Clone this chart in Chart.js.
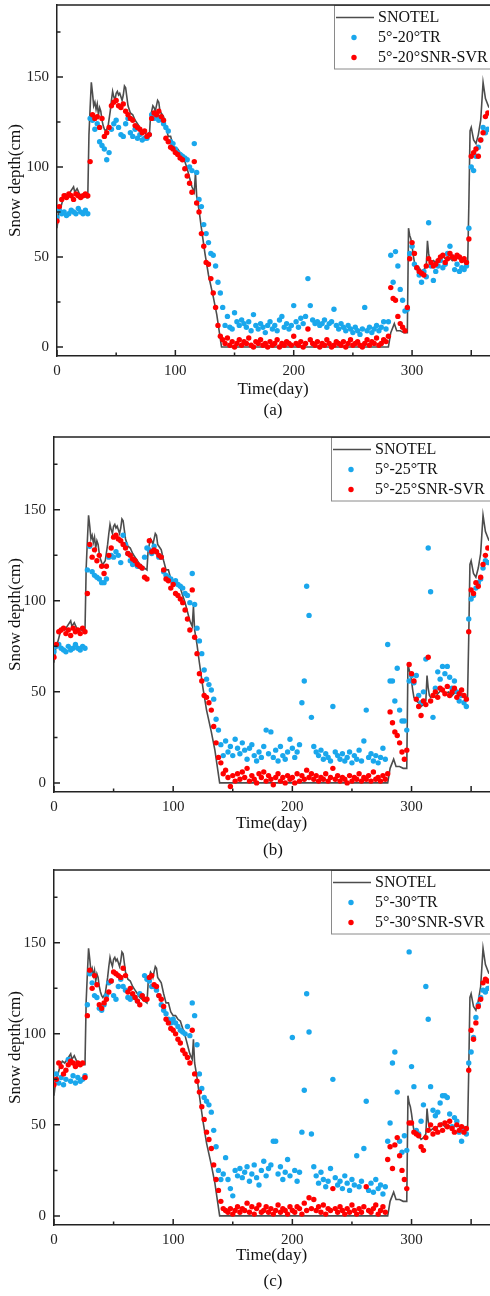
<!DOCTYPE html>
<html>
<head>
<meta charset="utf-8">
<script src="https://cdn.jsdelivr.net/npm/chart.js@4.4.0/dist/chart.umd.min.js"></script>
<style>
  html, body { margin: 0; padding: 0; background: #fff; overflow: hidden; }
  #wrap { position: relative; width: 490px; height: 1296px; overflow: hidden; background: #fff; }
  #wrap canvas { position: absolute; left: 0; }
  .cap { position: absolute; width: 40px; text-align: center; line-height: 20px;
         font-family: 'Liberation Serif', 'Times New Roman', serif; font-size: 17px; color: #111; }
</style>
</head>
<body>
<div id="wrap">
  <canvas id="chartA" width="493" height="416" style="top:0px;width:493px;height:416px"></canvas>
  <canvas id="chartB" width="493" height="420" style="top:432px;width:493px;height:420px"></canvas>
  <canvas id="chartC" width="493" height="420" style="top:865px;width:493px;height:420px"></canvas>
  <div class="cap" style="left:253px;top:400px">(a)</div>
  <div class="cap" style="left:253px;top:840px">(b)</div>
  <div class="cap" style="left:253px;top:1271px">(c)</div>
</div>
<script>
// SNOTEL snow depth (cm)
const snotelDays = [
  0, 1, 2, 3, 5, 7, 9, 11, 13, 14,
  15, 17, 19, 21, 23, 25, 26, 27, 28, 29,
  30, 31, 32, 33, 34, 35, 36, 37, 38, 39,
  40, 41, 43, 45, 46, 47, 48, 49, 50, 51,
  52, 53, 54, 55, 56, 57, 58, 59, 60, 62,
  64, 66, 68, 70, 72, 74, 76, 78, 79, 80,
  81, 82, 83, 84, 85, 86, 87, 88, 89, 90,
  92, 94, 96, 98, 100, 102, 104, 106, 108, 110,
  112, 114, 116, 117, 118, 120, 122, 125, 128, 132,
  135, 139, 280, 282, 285, 287, 290, 293, 296, 297,
  298, 299, 300, 301, 302, 304, 306, 308, 310, 312,
  313, 314, 315, 316, 318, 320, 322, 325, 328, 331,
  334, 337, 340, 343, 346, 347, 348, 349, 350, 352,
  354, 356, 358, 360, 362, 365
];
const snotelDepth = [
  66, 72, 76, 77, 82, 85, 84, 86, 88, 89,
  86, 88, 85, 84, 84, 83, 83, 118, 133, 147,
  141, 134, 136, 132, 135, 129, 133, 131, 126, 123,
  121, 120, 122, 131, 137, 142, 139, 137, 141, 142,
  140, 141, 139, 137, 140, 145, 144, 139, 134, 130,
  129, 126, 124, 122, 120, 119, 118, 117, 128, 131,
  134, 133, 131, 134, 137, 136, 131, 130, 129, 128,
  122, 117, 117, 112, 110, 110, 108, 107, 103, 99,
  94, 89, 86, 97, 84, 76, 66, 52, 40, 28,
  18, 0, 0, 8, 13, 9, 9, 8, 8, 66,
  62, 60, 56, 51, 47, 45, 44, 42, 43, 45,
  59, 52, 48, 47, 48, 47, 49, 51, 49, 50,
  48, 50, 49, 48, 47, 47, 80, 120, 122, 115,
  113, 118, 126, 147, 138, 133
];

// retrieval days: every second day of the year
const sampleDays = Array.from({ length: 183 }, (_, i) => i * 2);

// (a) 5°-20°
const trA = [
  72, 76, 74, 75, 73, 74, 76, 75, 74, 77,
  75, 74, 76, 74, 127, 126, 121, 124, 114, 112,
  110, 104, 108, 121, 124, 126, 122, 118, 117, 124,
  127, 119, 117, 121, 116, 118, 115, 116, 116, 118,
  129, 127, 128, 126, 127, 124, 122, 120, 114, 113,
  110, 108, 107, 106, 105, 104, 100, 98, 113, 97,
  82, 78, 68, 63, 58, 52, 51, 45, 36, 30,
  22, 12, 17, 11, 10, 19, 14, 12, 15, 13,
  11, 14, 9, 18, 12, 10, 13, 11, 8, 12,
  14, 10, 12, 9, 15, 17, 11, 13, 10, 12,
  23, 14, 11, 16, 13, 17, 38, 23, 15, 13,
  14, 12, 13, 15, 11, 13, 14, 21, 12, 10,
  13, 11, 9, 12, 10, 8, 11, 9, 7, 10,
  22, 9, 11, 8, 10, 12, 9, 11, 14, 10,
  14, 51, 36, 53, 45, 32, 26, 20, 21, 52,
  56, 46, 44, 40, 36, 42, 39, 69, 45, 37,
  42, 45, 48, 44, 46, 52, 56, 50, 43, 46,
  42, 44, 43, 45, 66, 100, 98, 106, 111, 115,
  122, 119, 121
];
const svrA = [
  70, 78, 82, 84, 83, 85, 84, 82, 85, 84,
  83, 84, 85, 84, 103, 129, 127, 128, 122, 127,
  117, 119, 122, 134, 136, 137, 134, 133, 135, 131,
  129, 127, 126, 123, 122, 121, 119, 120, 117, 118,
  127, 130, 129, 131, 128, 126, 116, 114, 111, 110,
  108, 107, 105, 104, 99, 95, 91, 86, 103, 80,
  75, 63, 56, 47, 46, 38, 30, 22, 12, 6,
  4, 2, 5, 1, 3, 0, 2, 4, 1, 3,
  2, 5, 1, 0, 3, 2, 4, 1, 2, 0,
  3, 1, 2, 4, 0, 2, 1, 3, 2, 1,
  6, 2, 1, 3, 0, 2, 10, 4, 2, 1,
  3, 0, 2, 1, 4, 2, 0, 1, 3, 2,
  1, 3, 0, 2, 4, 1, 2, 3, 1, 0,
  2, 4, 1, 3, 2, 5, 1, 2, 4, 3,
  6, 33, 27, 26, 17, 13, 11, 9, 22, 49,
  58, 52, 44, 42, 41, 40, 45, 49, 47, 45,
  46, 48, 50, 51, 47, 49, 52, 50, 49, 51,
  50, 48, 49, 47, 60, 106, 108, 110, 106, 115,
  119, 128, 130
];

// (b) 5°-25°
const trB = [
  72, 75, 76, 74, 73, 72, 75, 73, 74, 76,
  74, 73, 75, 74, 117, 130, 116, 114, 113, 112,
  110, 110, 112, 124, 125, 124, 127, 125, 121, 136,
  131, 126, 122, 120, 121, 119, 119, 118, 124, 129,
  128, 126, 130, 127, 124, 124, 116, 114, 113, 112,
  110, 111, 109, 108, 107, 104, 103, 99, 115, 98,
  85, 78, 71, 62, 57, 54, 51, 46, 35, 29,
  21, 15, 23, 17, 20, 15, 24, 19, 16, 22,
  18, 13, 19, 21, 15, 12, 17, 14, 20, 29,
  16, 28, 14, 18, 12, 20, 15, 13, 17, 24,
  19, 14, 17, 21, 44, 56, 108, 92, 36, 20,
  17, 15, 18, 13, 16, 14, 12, 42, 17, 15,
  13, 16, 12, 14, 17, 11, 15, 13, 18, 12,
  23, 40, 14, 16, 12, 15, 11, 14, 19, 13,
  76, 56, 56, 45, 63, 40, 34, 34, 29, 56,
  59, 55, 59, 48, 44, 50, 68, 129, 105, 36,
  52, 61, 57, 64, 60, 64, 58, 52, 56, 50,
  45, 48, 44, 42, 90, 101, 103, 107, 110, 112,
  118, 122, 121
];
const svrB = [
  69, 76, 83, 84, 85, 82, 84, 81, 85, 83,
  84, 82, 85, 83, 104, 131, 124, 128, 122, 125,
  119, 115, 119, 125, 129, 135, 136, 134, 133, 131,
  129, 126, 125, 123, 122, 120, 119, 118, 113, 112,
  133, 127, 128, 127, 125, 124, 117, 112, 111, 107,
  109, 104, 103, 101, 99, 95, 90, 84, 106, 80,
  71, 60, 56, 48, 47, 44, 40, 31, 22, 14,
  11, 5, 7, 3, -2, 4, 1, 5, 2, 6,
  3, 8, 1, 4, 2, 0, 5, 3, 6, 1,
  4, 2, -1, 3, 5, 1, 3, 0, 4, 2,
  3, 0, 5, 1, 4, 2, 7, 3, 5, 2,
  4, 1, 3, 2, 5, 1, 3, 8, 2, 4,
  1, 3, 2, 0, 4, 1, 3, 2, 5, 1,
  3, 2, 4, 1, 6, 2, 3, 1, 4, 2,
  5, 39, 33, 28, 26, 22, 17, 13, 18, 65,
  60, 56, 46, 42, 37, 45, 43, 69, 45, 48,
  50, 47, 52, 51, 49, 53, 48, 50, 52, 47,
  49, 51, 48, 46, 83, 106, 104, 110, 108, 113,
  120, 125, 129
];

// (c) 5°-30°
const trC = [
  74, 78, 73, 76, 72, 75, 86, 74, 77, 73,
  76, 74, 75, 77, 116, 133, 128, 121, 120, 114,
  113, 116, 121, 128, 129, 121, 119, 126, 130, 126,
  124, 120, 119, 121, 120, 118, 122, 121, 132, 130,
  129, 126, 126, 124, 121, 116, 113, 111, 108, 106,
  108, 106, 104, 102, 101, 100, 104, 99, 117, 110,
  94, 78, 70, 65, 63, 61, 57, 47, 38, 25,
  20, 23, 32, 20, 15, 11, 25, 22, 26, 21,
  24, 27, 19, 23, 28, 21, 17, 25, 30, 22,
  26, 28, 41, 41, 23, 27, 20, 24, 31, 22,
  98, 25, 19, 24, 46, 69, 122, 101, 45, 27,
  22, 18, 24, 20, 16, 19, 26, 75, 21, 17,
  19, 15, 22, 18, 14, 20, 17, 33, 16, 19,
  37, 63, 14, 18, 13, 20, 15, 17, 12, 16,
  41, 51, 84, 90, 68, 41, 35, 44, 36, 145,
  82, 71, 47, 45, 52, 61, 126, 108, 71, 58,
  55, 57, 62, 66, 66, 65, 56, 49, 54, 52,
  46, 41, 48, 45, 84, 90, 98, 109, 116, 120,
  124, 123, 125
];
const svrC = [
  72, 75, 84, 82, 78, 80, 83, 85, 84, 82,
  84, 83, 84, 76, 110, 135, 125, 132, 127, 116,
  114, 117, 119, 123, 129, 134, 133, 132, 131, 136,
  132, 123, 125, 122, 120, 118, 116, 121, 119, 119,
  131, 132, 127, 126, 121, 119, 115, 108, 106, 103,
  102, 100, 97, 95, 91, 89, 87, 84, 102, 78,
  74, 68, 60, 53, 46, 42, 37, 28, 20, 14,
  8, 4, 3, 2, 4, 1, 3, 5, 2, 4,
  3, 7, 2, 5, 1, 4, 6, 2, 3, 5,
  2, 4, 1, 3, 6, 2, 4, 3, 1, 5,
  3, 2, 5, 4, 1, 7, 3, 10, 4, 9,
  3, 5, 2, 6, 1, 4, 3, 15, 4, 2,
  5, 3, 1, 4, 2, 6, 3, 1, 4, 2,
  5, 16, 3, 2, 4, 6, 1, 3, 5, 2,
  31, 38, 26, 39, 43, 33, 25, 20, 15, 51,
  51, 46, 45, 44, 38, 36, 43, 47, 50, 45,
  48, 46, 50, 47, 51, 49, 52, 48, 46, 50,
  47, 49, 46, 48, 80, 102, 97, 106, 115, 119,
  128, 130, 129
];

const angleLabels = ['5°-20°', '5°-25°', '5°-30°'];
const yTicks = [0, 50, 100, 150];
const yMinor = [25, 75, 125, 175];
const xTicks = [0, 100, 200, 300, 350];
const xLabelled = [0, 100, 200, 300];
const xMinor = [50, 150, 250];

const serif = "'Liberation Serif', 'Times New Roman', serif";

function toPoints(xs, ys) {
  return ys.map((v, i) => ({ x: xs[i], y: v }));
}

// box legend inside the plot, inward tick marks and the top frame line
const frameTicks = {
  id: 'frameTicks',
  afterDraw(chart) {
    const { ctx, chartArea: a, scales: { x, y } } = chart;
    const ds = chart.data.datasets;
    ctx.save();

    // legend
    const L = a.left + 277, T = a.top;
    ctx.fillStyle = '#fff';
    ctx.fillRect(L, T, chart.width - L, 64);
    ctx.strokeStyle = '#8a8a8a';
    ctx.lineWidth = 1;
    ctx.strokeRect(L + 0.5, T + 0.5, chart.width, 63.5);

    ctx.strokeStyle = ds[0].borderColor;
    ctx.lineWidth = ds[0].borderWidth;
    ctx.beginPath();
    ctx.moveTo(L + 2, T + 12.5);
    ctx.lineTo(L + 40, T + 12.5);
    ctx.stroke();
    [1, 2].forEach((k, j) => {
      ctx.fillStyle = ds[k].backgroundColor;
      ctx.beginPath();
      ctx.arc(L + 20, T + 32.5 + j * 20, ds[k].pointRadius, 0, Math.PI * 2);
      ctx.fill();
    });
    ctx.fillStyle = '#111';
    ctx.font = '16px ' + serif;
    ctx.textBaseline = 'middle';
    ds.forEach((d, k) => ctx.fillText(d.label, L + 44, T + 13 + k * 20));

    // frame top + ticks pointing inward
    ctx.strokeStyle = '#222';
    ctx.lineWidth = 1.5;
    ctx.beginPath();
    ctx.moveTo(a.left - 0.75, a.top);
    ctx.lineTo(chart.width, a.top);
    yTicks.forEach(v => { const p = y.getPixelForValue(v); ctx.moveTo(a.left, p); ctx.lineTo(a.left + 6, p); });
    yMinor.forEach(v => { const p = y.getPixelForValue(v); ctx.moveTo(a.left, p); ctx.lineTo(a.left + 3.5, p); });
    xTicks.forEach(v => { const p = x.getPixelForValue(v); ctx.moveTo(p, a.bottom); ctx.lineTo(p, a.bottom - 6); });
    xMinor.forEach(v => { const p = x.getPixelForValue(v); ctx.moveTo(p, a.bottom); ctx.lineTo(p, a.bottom - 3.5); });
    ctx.stroke();
    ctx.restore();
  }
};

function makeChart(canvasId, tr, svr, angle, plotLeft, titlePad) {
  return new Chart(document.getElementById(canvasId), {
    type: 'scatter',
    data: {
      datasets: [
        {
          label: 'SNOTEL',
          data: toPoints(snotelDays, snotelDepth),
          showLine: true,
          borderColor: '#4d4d4d',
          borderWidth: 1.6,
          pointRadius: 0,
          order: 3
        },
        {
          label: angle + 'TR',
          data: toPoints(sampleDays, tr),
          backgroundColor: '#1aa7ec',
          borderWidth: 0,
          pointRadius: 2.7,
          order: 2
        },
        {
          label: angle + 'SNR-SVR',
          data: toPoints(sampleDays, svr),
          backgroundColor: '#ff0000',
          borderWidth: 0,
          pointRadius: 2.7,
          order: 1
        }
      ]
    },
    options: {
      responsive: false,
      animation: false,
      events: [],
      layout: { padding: { top: 5, left: 0, right: 0, bottom: 0 } },
      plugins: {
        legend: { display: false },
        tooltip: { enabled: false }
      },
      scales: {
        x: {
          type: 'linear',
          min: 0,
          max: 365,
          grid: { display: false, drawTicks: false },
          border: { display: true, color: '#222', width: 1.5 },
          afterBuildTicks: s => { s.ticks = xLabelled.map(v => ({ value: v })); },
          afterFit: s => { s.height = 60; s.paddingLeft = 0; s.paddingRight = 0; },
          ticks: { padding: 6, color: '#222', maxRotation: 0, font: { family: serif, size: 15 } },
          title: {
            display: true,
            text: 'Time(day)',
            color: '#111',
            font: { family: serif, size: 17 },
            padding: { top: 0, bottom: titlePad }
          }
        },
        y: {
          min: -5,
          max: 190,
          grid: { display: false, drawTicks: false },
          border: { display: true, color: '#222', width: 1.5 },
          afterBuildTicks: s => { s.ticks = yTicks.map(v => ({ value: v })); },
          afterFit: s => { s.width = plotLeft; s.paddingTop = 0; s.paddingBottom = 0; },
          ticks: { padding: 8, color: '#222', font: { family: serif, size: 15 } },
          title: {
            display: true,
            text: 'Snow depth(cm)',
            color: '#111',
            font: { family: serif, size: 17 },
            padding: { top: 5, bottom: 0 }
          }
        }
      }
    },
    plugins: [frameTicks]
  });
}

makeChart('chartA', trA, svrA, angleLabels[0], 57, 16);
makeChart('chartB', trB, svrB, angleLabels[1], 54, 18);
makeChart('chartC', trC, svrC, angleLabels[2], 54, 19);
</script>
</body>
</html>
